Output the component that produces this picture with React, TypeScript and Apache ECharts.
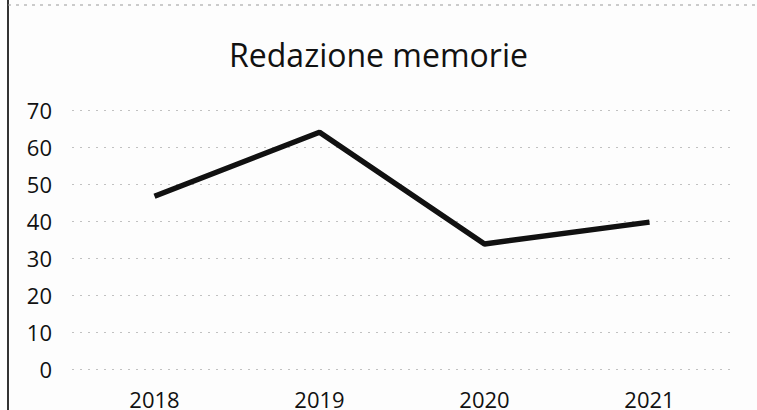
import React, { useEffect, useRef } from "react";
import * as echarts from "echarts";

const categories = ["2018", "2019", "2020", "2021"];
const values = [46.7, 64, 33.8, 39.7];
const title = "Redazione memorie";

export default function App() {
  const ref = useRef<HTMLDivElement>(null);
  useEffect(() => {
    const chart = echarts.init(ref.current!, null, { renderer: "svg" });
    chart.setOption({
      animation: false,
      backgroundColor: "#fdfdfd",
      title: {
        text: title,
        left: "center",
        top: 33,
        textStyle: { fontFamily: "Open Sans", fontSize: 32, fontWeight: "normal", color: "#111" },
      },
      grid: { left: 72, right: 25, top: 110, bottom: 32, containLabel: false },
      xAxis: {
        type: "category",
        data: categories,
        axisLine: { show: false },
        axisTick: { show: false },
        axisLabel: { fontFamily: "Open Sans", fontSize: 22, color: "#111", margin: 19 },
      },
      yAxis: {
        type: "value",
        min: 0,
        max: 70,
        interval: 10,
        axisLine: { show: false },
        axisTick: { show: false },
        axisLabel: { fontFamily: "Open Sans", fontSize: 22, color: "#111", margin: 20 },
        splitLine: { lineStyle: { color: "#9a9a9a", type: [2, 6], width: 1, opacity: 0.6 } },
      },
      series: [
        {
          type: "line",
          data: values,
          symbol: "none",
          lineStyle: { color: "#111", width: 5.5 },
        },
      ],
      graphic: [
        { type: "line", shape: { x1: 8, y1: 0, x2: 8, y2: 410 }, style: { stroke: "#333", lineWidth: 2 } },
        { type: "line", shape: { x1: 8, y1: 5, x2: 757, y2: 5 }, style: { stroke: "#999", lineWidth: 1, lineDash: [3, 5] } },
      ],
    });
    return () => chart.dispose();
  }, []);
  return <div ref={ref} style={{ width: 757, height: 410, position: "absolute", left: 0, top: 0 }} />;
}
